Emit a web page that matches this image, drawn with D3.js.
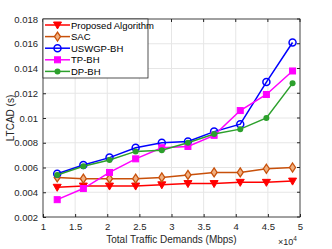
<!DOCTYPE html>
<html>
<head>
<meta charset="utf-8">
<script src="https://cdn.jsdelivr.net/npm/d3@7"></script>
<style>
  body { margin: 0; background: #fff; }
  text { font-family: "Liberation Sans", Arial, sans-serif; }
</style>
</head>
<body>
<svg id="chart" width="332" height="249"></svg>
<script>
// traffic demand (Mbps), shown as x10^4 on the axis
const demands = [12210, 16280, 20350, 24420, 28490, 32560, 36630, 40700, 44770, 48840];

const proposed = [0.0044, 0.0045, 0.0045, 0.0045, 0.0046, 0.0047, 0.0047, 0.0048, 0.0048, 0.0049];
const sac      = [0.0052, 0.0051, 0.0051, 0.0051, 0.0052, 0.0054, 0.0056, 0.0056, 0.0059, 0.0060];
const uswgp    = [0.0055, 0.0062, 0.0068, 0.0076, 0.0080, 0.0081, 0.0089, 0.0095, 0.0129, 0.0161];
const tpbh     = [0.0034, 0.0043, 0.0056, 0.0067, 0.0076, 0.0077, 0.0086, 0.0106, 0.0119, 0.0138];
const dpbh     = [0.0054, 0.0061, 0.0066, 0.0073, 0.0074, 0.0080, 0.0087, 0.0091, 0.0100, 0.0128];

const xTicks = [1, 1.5, 2, 2.5, 3, 3.5, 4, 4.5, 5];
const yTicks = [0.002, 0.004, 0.006, 0.008, 0.01, 0.012, 0.014, 0.016, 0.018];

const series = [
    { name: "Proposed Algorithm", values: proposed, color: "#ff0000", marker: "tri" },
    { name: "SAC", values: sac, color: "#c8500a", marker: "diamond" },
    { name: "USWGP-BH", values: uswgp, color: "#0000ff", marker: "circle" },
    { name: "TP-BH", values: tpbh, color: "#ff00ff", marker: "square" },
    { name: "DP-BH", values: dpbh, color: "#2ca02c", marker: "dot" }
];

const svg = d3.select("#chart");
const pLeft = 43, pRight = 300, pTop = 19, pBottom = 217;

const x = d3.scaleLinear().domain([1, 5]).range([pLeft, pRight]);
const y = d3.scaleLinear().domain([0.002, 0.018]).range([pBottom, pTop]);

// grid
svg.append("g").selectAll("line")
    .data(xTicks)
    .enter().append("line")
    .attr("x1", d => x(d)).attr("x2", d => x(d))
    .attr("y1", pTop).attr("y2", pBottom)
    .attr("stroke", "#e6e6e6").attr("stroke-width", 1);
svg.append("g").selectAll("line")
    .data(yTicks)
    .enter().append("line")
    .attr("x1", pLeft).attr("x2", pRight)
    .attr("y1", d => y(d)).attr("y2", d => y(d))
    .attr("stroke", "#e6e6e6").attr("stroke-width", 1);

// axes (ticks inside, like matlab)
const xAxis = d3.axisBottom(x).tickValues(xTicks).tickSize(-3).tickPadding(6)
    .tickFormat(d => d3.format("")(d));
const yAxis = d3.axisLeft(y).tickValues(yTicks).tickSize(-3).tickPadding(5)
    .tickFormat(d => d3.format("")(+d.toFixed(3)));

const gx = svg.append("g").attr("transform", `translate(0,${pBottom})`).call(xAxis);
const gy = svg.append("g").attr("transform", `translate(${pLeft},0)`).call(yAxis);
[gx, gy].forEach(g => {
    g.select(".domain").remove();
    g.selectAll(".tick line").attr("stroke", "#262626");
    g.selectAll(".tick text").attr("fill", "#262626")
        .style("font-size", "9.5px")
        .style("font-family", "Liberation Sans, Arial, sans-serif");
});

// top/right ticks
svg.append("g").selectAll("line")
    .data(xTicks).enter().append("line")
    .attr("x1", d => x(d)).attr("x2", d => x(d))
    .attr("y1", pTop).attr("y2", pTop + 3).attr("stroke", "#262626");
svg.append("g").selectAll("line")
    .data(yTicks).enter().append("line")
    .attr("x1", pRight).attr("x2", pRight - 3)
    .attr("y1", d => y(d)).attr("y2", d => y(d)).attr("stroke", "#262626");

svg.append("rect")
    .attr("x", pLeft).attr("y", pTop)
    .attr("width", pRight - pLeft).attr("height", pBottom - pTop)
    .attr("fill", "none").attr("stroke", "#262626").attr("stroke-width", 0.8);

// lines
const line = d3.line()
    .x((d, i) => x(demands[i] / 1e4))
    .y(d => y(d));

function drawMarker(g, type, cx, cy, color) {
    if (type === "tri") {
        g.append("path")
            .attr("d", `M${cx - 4},${cy - 3}L${cx + 4},${cy - 3}L${cx},${cy + 4}Z`)
            .attr("fill", color).attr("stroke", color);
    } else if (type === "diamond") {
        g.append("path")
            .attr("d", `M${cx},${cy - 4.5}L${cx + 3},${cy}L${cx},${cy + 4.5}L${cx - 3},${cy}Z`)
            .attr("fill", "#f0b080").attr("stroke", color).attr("stroke-width", 1.3);
    } else if (type === "circle") {
        g.append("circle").attr("cx", cx).attr("cy", cy).attr("r", 3.5)
            .attr("fill", "none").attr("stroke", color).attr("stroke-width", 1.5);
    } else if (type === "square") {
        g.append("rect").attr("x", cx - 3).attr("y", cy - 3)
            .attr("width", 6).attr("height", 6)
            .attr("fill", color).attr("stroke", color);
    } else {
        g.append("circle").attr("cx", cx).attr("cy", cy).attr("r", 3)
            .attr("fill", color);
    }
}

series.forEach(s => {
    const g = svg.append("g");
    g.append("path")
        .datum(s.values)
        .attr("d", line)
        .attr("fill", "none")
        .attr("stroke", s.color)
        .attr("stroke-width", 1.5);
    s.values.forEach((v, i) => drawMarker(g, s.marker, x(demands[i] / 1e4), y(v), s.color));
});

// legend
const lg = svg.append("g");
lg.append("rect")
    .attr("x", pLeft).attr("y", pTop)
    .attr("width", 105).attr("height", 59)
    .attr("fill", "#fff").attr("stroke", "#262626").attr("stroke-width", 0.8);
series.forEach((s, i) => {
    const ly = 25 + i * 11.6;
    lg.append("line")
        .attr("x1", 45).attr("x2", 70)
        .attr("y1", ly).attr("y2", ly)
        .attr("stroke", s.color).attr("stroke-width", 1.5);
    drawMarker(lg, s.marker, 57.5, ly, s.color);
    lg.append("text")
        .attr("x", 71).attr("y", ly + 3.5)
        .style("font-size", "9.5px")
        .attr("fill", "#000")
        .text(s.name);
});

// axis labels
svg.append("text")
    .attr("x", (pLeft + pRight) / 2).attr("y", 243)
    .attr("text-anchor", "middle")
    .style("font-size", "10px").attr("fill", "#262626")
    .text("Total Traffic Demands (Mbps)");

svg.append("text")
    .attr("transform", `translate(14,${(pTop + pBottom) / 2}) rotate(-90)`)
    .attr("text-anchor", "middle")
    .style("font-size", "10px").attr("fill", "#262626")
    .text("LTCAD (s)");

const exp = svg.append("text")
    .attr("x", 278).attr("y", 245)
    .style("font-size", "9px").attr("fill", "#262626");
exp.append("tspan").text("\u00d710");
exp.append("tspan").attr("dy", -4).style("font-size", "6.5px").text("4");
</script>
</body>
</html>
